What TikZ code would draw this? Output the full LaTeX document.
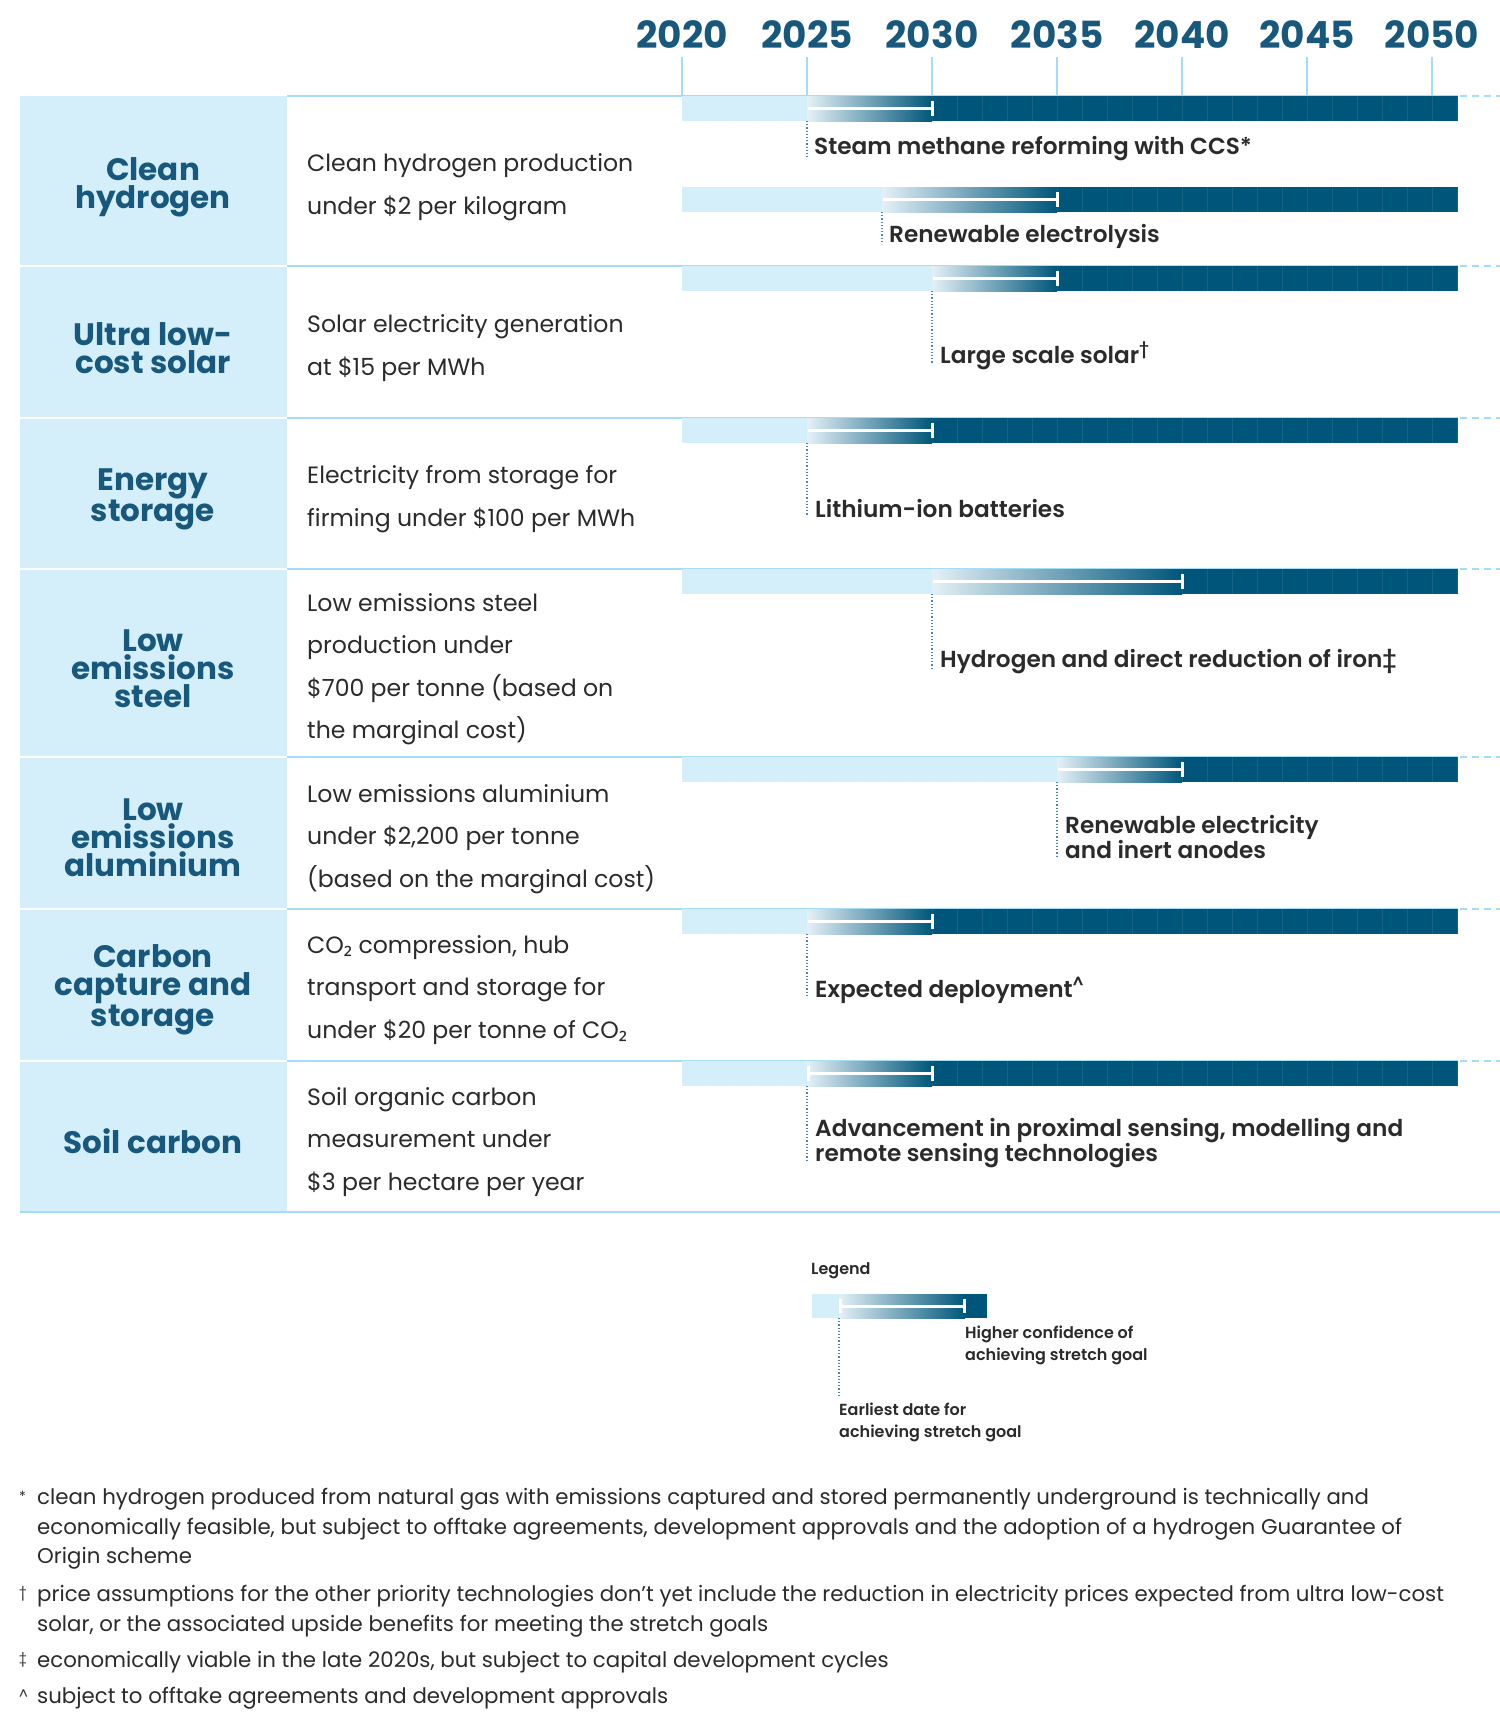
\documentclass[tikz,border=0pt]{standalone}
\usepackage{fontspec}
\setmainfont{Poppins}
\newfontfamily\subfont{Noto Sans}
\newfontfamily\medfont{Poppins SemiBold}
\definecolor{lightbox}{HTML}{D4EEFA}
\definecolor{rowline}{HTML}{A6DCF6}
\definecolor{darkbar}{HTML}{00567A}
\definecolor{gradstart}{HTML}{E4F0F7}
\definecolor{headc}{HTML}{17587C}
\definecolor{txt}{HTML}{2B2B2B}
\definecolor{dotc}{HTML}{4A86AD}
\newcommand\two{{\subfont ₂}}
\newcommand\tlbar[4]{% y0, xs, xe, leftcap
  \fill[lightbox] (682,#1) rectangle (#2,#1+25);
  \fill[darkbar] (#3,#1) rectangle (1458,#1+25);
  \foreach \k in {1,...,31} {\draw[white,opacity=0.08,line width=0.8] ({682+25*\k},#1) -- ++(0,25);}
  \shade[left color=gradstart,right color=darkbar] (#2,#1) rectangle (#3,#1+25);
  \draw[white,line width=3] (#2+1,#1+12.5) -- (#3,#1+12.5);
  \draw[white,line width=3] (#3,#1+5) -- (#3,#1+20);
  \ifnum#4=1 \draw[white,line width=3] (#2+1.5,#1+5) -- (#2+1.5,#1+20);\fi
}
\begin{document}
\begin{tikzpicture}[x=1pt,y=-1pt,
  yearlbl/.style={font=\fontsize{37.4}{40}\selectfont\bfseries, text=headc, inner sep=0},
  catlbl/.style={font=\fontsize{31}{28.2}\selectfont\bfseries, text=headc, align=center, inner sep=0},
  desclbl/.style={font=\fontsize{23.6}{42.5}\selectfont, text=txt, align=left, anchor=west, inner sep=0},
  techlbl/.style={font=\fontsize{23.2}{25.5}\selectfont\medfont, text=txt, align=left, anchor=west, inner sep=0},
  leglbl/.style={font=\fontsize{16}{22}\selectfont\medfont, text=txt, align=left, anchor=west, inner sep=0},
  fnlbl/.style={font=\fontsize{21.3}{29.7}\selectfont, text=txt, align=left, anchor=north west, inner sep=0},
  fnsym/.style={font=\fontsize{14}{16}\selectfont, text=txt, anchor=north west, inner sep=0},
  leader/.style={dotc, dotted, line width=1.2},
  rline/.style={rowline, line width=2},
  tickline/.style={rowline, line width=1.5}]
\useasboundingbox (0,0) rectangle (1500,1725);
\fill[white] (0,0) rectangle (1500,1725);
% years
\foreach \yv [count=\i from 0] in {2020,2025,2030,2035,2040,2045,2050} {
  \node[yearlbl] (y\yv) at ({682+125*\i},35) {\yv};
  \draw[tickline] ({682+125*\i},57) -- ({682+125*\i},96);
}
% left boxes and row lines
\foreach \ta/\tb in {96/265,267/417,419/568,570/756,758/908,910/1060,1062/1211} {
  \fill[lightbox] (20,\ta) rectangle (287,\tb);
}
\foreach \t in {96,266,418,569,757,909,1061} {
  \draw[rline] (287,\t) -- (1458,\t);
  \draw[rline,dash pattern=on 7pt off 5pt] (1460,\t) -- (1500,\t);
}
\draw[rline] (20,1212) -- (1500,1212);
% categories
\node[catlbl] (c1) at (153,187) {Clean\\hydrogen};
\node[catlbl] (c2) at (153,348) {Ultra low-\\cost solar};
\node[catlbl] (c3) at (153,499) {Energy\\storage};
\node[catlbl] (c4) at (153,669) {Low\\emissions\\steel};
\node[catlbl] (c5) at (153,838) {Low\\emissions\\aluminium};
\node[catlbl] (c6) at (153,990) {Carbon\\capture and\\storage};
\node[catlbl] (c7) at (153,1141) {Soil carbon};
% descriptions
\node[desclbl] (d1) at (307,187) {Clean hydrogen production\\under \$2 per kilogram};
\node[desclbl] (d2) at (307,348) {Solar electricity generation\\at \$15 per MWh};
\node[desclbl] (d3) at (307,499) {Electricity from storage for\\firming under \$100 per MWh};
\node[desclbl] (d4) at (307,669) {Low emissions steel\\production under\\\$700 per tonne (based on\\the marginal cost)};
\node[desclbl] (d5) at (307,839) {Low emissions aluminium\\under \$2,200 per tonne\\(based on the marginal cost)};
\node[desclbl] (d6) at (307,990) {CO\two{} compression, hub\\transport and storage for\\under \$20 per tonne of CO\two};
\node[desclbl] (d7) at (307,1142) {Soil organic carbon\\measurement under\\\$3 per hectare per year};
% bars
\tlbar{96}{807}{932}{0}
\tlbar{187}{882}{1057}{0}
\tlbar{266}{932}{1057}{0}
\tlbar{418}{807}{932}{0}
\tlbar{569}{932}{1182}{0}
\tlbar{757}{1057}{1182}{0}
\tlbar{909}{807}{932}{0}
\tlbar{1061}{807}{932}{1}
% tech labels and leaders
\node[techlbl] (t1) at (814,149) {Steam methane reforming with CCS*};
\coordinate (s1) at (807,121); \draw[leader] (s1) -- (s1 |- 0,157);
\node[techlbl] (t2) at (889,236) {Renewable electrolysis};
\coordinate (s2) at (882,212); \draw[leader] (s2) -- (s2 |- 0,244);
\node[techlbl] (t3) at (940,356) {Large scale solar\textsuperscript{†}};
\coordinate (s3) at (932,291); \draw[leader] (s3) -- (s3 |- 0,363);
\node[techlbl] (t4) at (815,509) {Lithium-ion batteries};
\coordinate (s4) at (807,443); \draw[leader] (s4) -- (s4 |- 0,515);
\node[techlbl] (t5) at (940,662) {Hydrogen and direct reduction of iron‡};
\coordinate (s5) at (932,594); \draw[leader] (s5) -- (s5 |- 0,669);
\node[techlbl] (t6) at (1065,837) {Renewable electricity\\and inert anodes};
\coordinate (s6) at (1057,782); \draw[leader] (s6) -- (s6 |- 0,858);
\node[techlbl] (t7) at (815,990) {Expected deployment\textsuperscript{\^{}}};
\coordinate (s7) at (807,934); \draw[leader] (s7) -- (s7 |- 0,998);
\node[techlbl] (t8) at (815,1143) {Advancement in proximal sensing, modelling and\\remote sensing technologies};
\coordinate (s8) at (807,1086); \draw[leader] (s8) -- (s8 |- 0,1162);
% legend
\node[leglbl] (lg) at (811,1271) {Legend};
\fill[lightbox] (812,1294) rectangle (839,1318);
\fill[darkbar] (965,1294) rectangle (987,1318);
\shade[left color=gradstart,right color=darkbar] (839,1294) rectangle (965,1318);
\draw[white,line width=3] (839,1306) -- (965,1306);
\draw[white,line width=3] (840.5,1299) -- (840.5,1313);
\draw[white,line width=3] (964,1299) -- (964,1313);
\coordinate (ls) at (839,1318); \draw[leader] (ls) -- (ls |- 0,1395);
\node[leglbl] (lh) at (965,1345) {Higher confidence of\\achieving stretch goal};
\node[leglbl] (le) at (839,1422) {Earliest date for\\achieving stretch goal};
% footnotes
\node[fnsym] (f1s) at (19,1491) {*};
\node[fnlbl] (f1) at (37,1488) {clean hydrogen produced from natural gas with emissions captured and stored permanently underground is technically and\\economically feasible, but subject to offtake agreements, development approvals and the adoption of a hydrogen Guarantee of\\Origin scheme};
\node[fnsym] (f2s) at (19,1586) {†};
\node[fnlbl] (f2) at (37,1585) {price assumptions for the other priority technologies don’t yet include the reduction in electricity prices expected from ultra low-cost\\solar, or the associated upside benefits for meeting the stretch goals};
\node[fnsym] (f3s) at (19,1652) {‡};
\node[fnlbl] (f3) at (37,1651) {economically viable in the late 2020s, but subject to capital development cycles};
\node[fnsym] (f4s) at (19,1690) {\^{}};
\node[fnlbl] (f4) at (37,1687) {subject to offtake agreements and development approvals};
\end{tikzpicture}
\end{document}
